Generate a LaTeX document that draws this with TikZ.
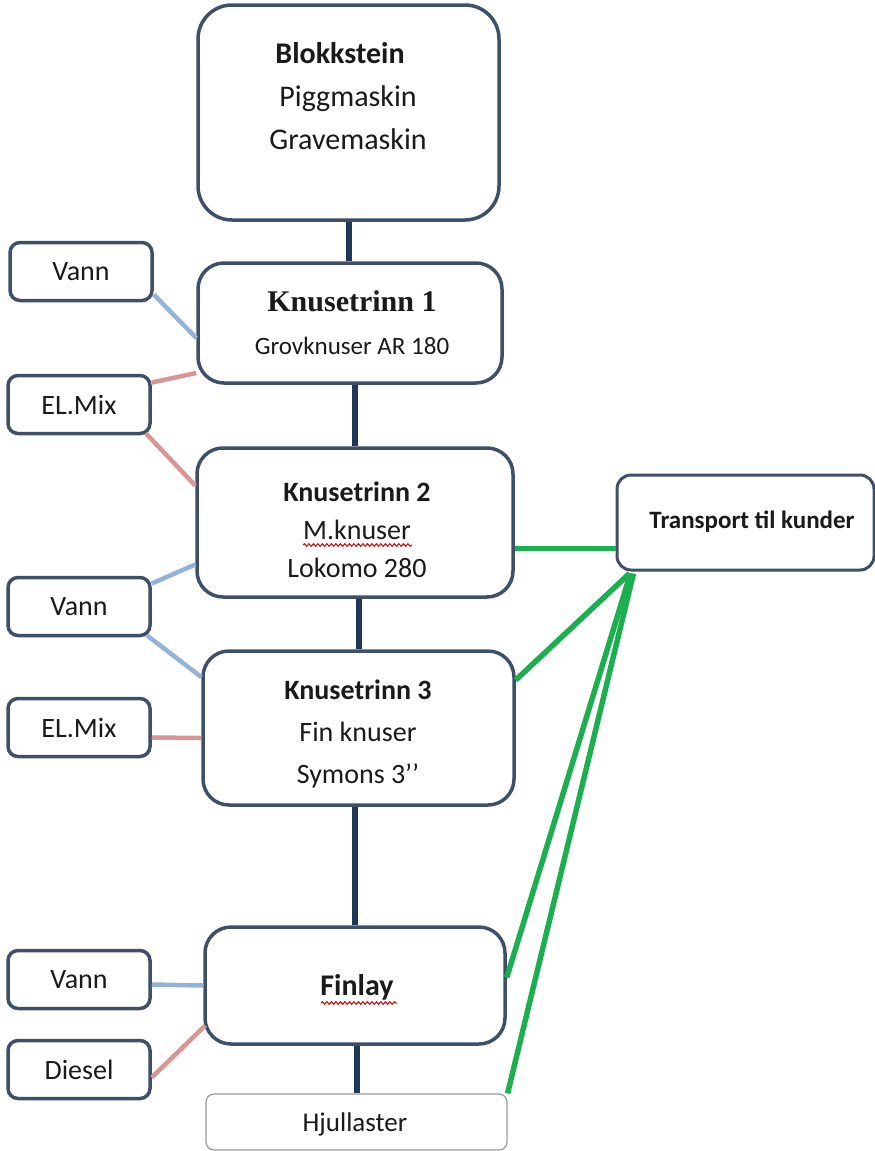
\documentclass[tikz,border=0pt]{standalone}
\usepackage{fontspec}
\setmainfont{Carlito}
\newfontfamily\timesfont{Liberation Serif}
\usetikzlibrary{positioning, calc, decorations.pathmorphing}
\definecolor{SlateEdge}{HTML}{3E5068}
\definecolor{NavyLink}{HTML}{1F3858}
\definecolor{WaterBlue}{HTML}{95B3D7}
\definecolor{PowerRed}{HTML}{D99594}
\definecolor{HaulGreen}{HTML}{1DAF4F}
\definecolor{InkBlack}{HTML}{1A1A1A}
\definecolor{SoftGray}{HTML}{9A9A9A}

\tikzset{
  stagebox/.style={draw=SlateEdge, line width=3.5pt, rounded corners=26pt, fill=white},
  inputbox/.style={draw=SlateEdge, line width=3.5pt, rounded corners=10pt, fill=white,
                   minimum width=142pt, minimum height=58pt, text=InkBlack,
                   font=\fontsize{28}{34}\selectfont},
  stagetext/.style={text=InkBlack, align=center, font=\fontsize{28}{38}\selectfont},
  flowline/.style={draw=NavyLink, line width=6pt},
  waterline/.style={draw=WaterBlue, line width=4.5pt},
  powerline/.style={draw=PowerRed, line width=4.5pt},
  haulline/.style={draw=HaulGreen, line width=5.5pt},
  squiggle/.style={draw=red!80!black, line width=1pt, decorate,
                   decoration={snake, amplitude=1.3pt, segment length=4.5pt}}
}

\begin{document}
\begin{tikzpicture}[x=1pt, y=-1pt]
\useasboundingbox (0,0) rectangle (875,1151);

\node[stagebox, rounded corners=34pt, minimum width=301pt, minimum height=215pt] (blokk) at (348.5,112.5) {};
\node[stagetext, font=\fontsize{30}{43}\selectfont] (blokk-txt) at (348,96)
    {\textbf{Blokkstein}\hspace*{16pt}\\Piggmaskin\\Gravemaskin};

\node[stagebox, minimum width=304pt, minimum height=120pt] (k1) at (350,323) {};
\node[stagetext, font=\fontsize{25}{43}\selectfont] (k1-txt) at (352,323)
    {{\timesfont\bfseries\fontsize{30}{30}\selectfont Knusetrinn 1}\\Grovknuser AR 180};

\node[stagebox, minimum width=316pt, minimum height=149pt] (k2) at (355,522.5) {};
\node[stagetext] (k2-txt) at (357,530) {\textbf{Knusetrinn 2}\\M.knuser\\Lokomo 280};

\node[stagebox, minimum width=311pt, minimum height=154pt] (k3) at (358.5,728) {};
\node[stagetext, font=\fontsize{28}{42}\selectfont] (k3-txt) at (358,734)
    {\textbf{Knusetrinn 3}\\Fin knuser\\Symons 3’’};

\node[stagebox, minimum width=300pt, minimum height=117pt] (fin) at (355,985.5) {};
\node[stagetext, font=\fontsize{30}{36}\selectfont] (fin-txt) at (357,987) {\textbf{Finlay}};

\node[draw=SoftGray, line width=1.2pt, rounded corners=8pt, fill=white,
      minimum width=301pt, minimum height=56pt] (hjul) at (356.5,1122) {};
\node[stagetext, font=\fontsize{27}{32}\selectfont] (hjul-txt) at (355,1124) {Hjullaster};

\node[stagebox, line width=3pt, rounded corners=14pt, minimum width=257pt, minimum height=95pt] (trans) at (745.5,522.5) {};
\node[stagetext, font=\fontsize{25}{30}\selectfont] (trans-txt) at (752,522) {\textbf{Transport til kunder}};

\node[inputbox] (vann-a) at (81,271.5) {Vann};
\node[inputbox] (elmix-a) at (79,404.5) {EL.Mix};
\node[inputbox] (vann-b) at (79,606.5) {Vann};
\node[inputbox] (elmix-b) at (79,727.5) {EL.Mix};
\node[inputbox] (vann-c) at (79,979.5) {Vann};
\node[inputbox] (diesel) at (79,1069.5) {Diesel};

\draw[flowline] (blokk.south) -- (blokk.south |- k1.north);
\draw[flowline] (k1.south -| k2.north) -- (k2.north);
\draw[flowline] (k2.south -| k3.north) -- (k3.north);
\draw[flowline] (k3.south -| fin.north) -- (fin.north);
\draw[flowline] (fin.south -| hjul.north) -- (hjul.north);

\draw[waterline] ($(vann-a.east)+(0,23)$) -- ($(k1.west)+(0,15)$);
\draw[powerline] ($(elmix-a.east)+(0,-22)$) -- ($(k1.west)+(0,50)$);
\draw[powerline] ($(elmix-a.south east)+(-6,-2)$) -- ($(k2.west)+(0,-37)$);
\draw[waterline] ($(vann-b.east)+(0,-23)$) -- ($(k2.west)+(0,42)$);
\draw[waterline] ($(vann-b.south east)+(-5,-2)$) -- ($(k3.west)+(0,-51)$);
\draw[powerline] ($(elmix-b.east)+(0,10)$) -- ($(k3.west)+(0,10)$);
\draw[waterline] ($(vann-c.east)+(0,5)$) -- (fin.west);
\draw[powerline] ($(diesel.east)+(0,8)$) -- ($(fin.west)+(2,40)$);

\draw[haulline] ($(k2.east)+(0,26)$) -- ($(trans.west)+(0,26)$);
\draw[haulline] ($(k3.east)+(0,-48)$) -- ($(trans.south west)+(14,2)$);
\draw[haulline] ($(fin.east)+(0,-8)$) -- ($(trans.south west)+(15,2)$);
\draw[haulline] (hjul.north east) -- ($(trans.south west)+(18,2)$);

\draw[squiggle] (303,545) -- (412,545);
\draw[squiggle] (321,1003) -- (397,1003);
\end{tikzpicture}
\end{document}
